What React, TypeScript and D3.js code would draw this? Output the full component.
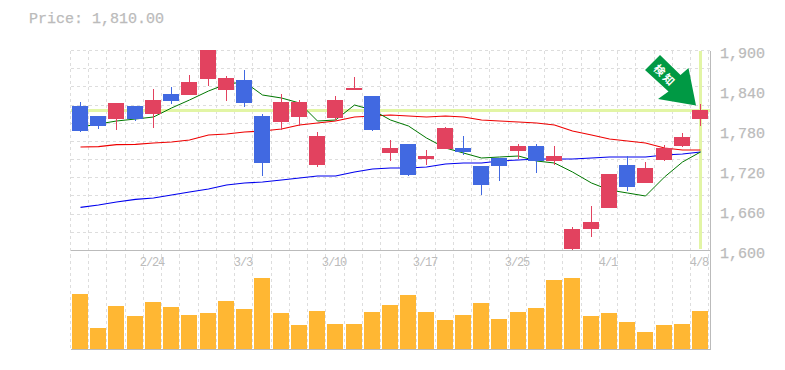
import React from "react";
import * as d3 from "d3";

const bodyHigh = [1816,1801,1820.5,1816,1825,1834,1852,1903,1858,1855,1801,1822,1822,1771,1825,1843,1831,1753,1759,1741,1783,1753,1726,1738,1756,1756,1741,1631.5,1642,1714,1727.5,1723,1753,1769.5,1810];
const bodyLow = [1778.5,1786,1796.5,1796.5,1804,1823.5,1832.5,1856.5,1840,1820.5,1730.5,1792,1799.5,1727.5,1798,1840,1780,1745.5,1712.5,1736.5,1751.5,1747,1697.5,1726,1748.5,1733.5,1733.5,1601.5,1631.5,1663,1694.5,1700.5,1735,1756,1796.5];
const highs = [1822,1801,1820.5,1816,1841.5,1844.5,1862.5,1903,1861,1870,1804,1834,1825,1777,1831,1859.5,1831,1765,1759,1750,1784.5,1771,1726,1738,1759,1759,1756,1634.5,1666,1714,1741,1732,1757.5,1775.5,1819];
const lows = [1777,1781.5,1780,1793.5,1783,1819,1832.5,1846,1823.5,1814.5,1711,1780,1786,1724.5,1793.5,1840,1778.5,1733.5,1711,1727.5,1751.5,1742.5,1682.5,1703.5,1736.5,1715.5,1727.5,1598.5,1619.5,1663,1688.5,1700.5,1733.5,1754.5,1786];
const isUp = [0,0,1,0,1,0,1,1,1,0,0,1,1,1,1,1,0,1,0,1,1,0,0,0,1,0,1,1,1,1,0,1,1,1,1];
const volumes = [55,21,43,33,47,42,34,36,48,40,71,36,24,38,25,25,37,44,54,37,29,34,46,30,37,41,69,71,33,36,27,17,24,25,38];
const ma5 = [1784.5,1789,1793.5,1796.5,1799.5,1813,1825,1838.5,1849,1852,1832.5,1828,1820.5,1793.5,1795,1817.5,1810,1795,1786,1768,1753,1745.5,1738,1739.5,1741,1733.5,1730.5,1717,1700.5,1690,1685.5,1681,1709.5,1732,1747];
const ma25 = [1754.5,1755,1758,1758.5,1760.5,1762,1765,1772.5,1774,1777,1778.5,1781.5,1787.5,1790.5,1793.5,1799.5,1801,1802.5,1801,1799.5,1801,1799.5,1795,1793.5,1792,1790.5,1787.5,1778.5,1772.5,1766.5,1763.5,1760.5,1753,1750,1750];
const ma75 = [1664,1667.5,1672,1676,1678,1682.5,1687,1691.5,1697.5,1700.5,1702,1705,1708,1711,1711,1717,1721.5,1723,1723,1724.5,1729,1730.5,1730.5,1733.5,1735,1736.5,1736.5,1736.5,1738,1739.5,1739.5,1739.5,1742.5,1744,1747];
const priceTicks = [1600,1660,1720,1780,1840,1900];
const dateTicks: [number, string][] = [[4,"2/24"],[9,"3/3"],[14,"3/10"],[19,"3/17"],[24,"3/25"],[29,"4/1"],[34,"4/8"]];
const currentPrice = 1810;
const priceLabel = "Price: 1,810.00";
const badge = "検知";

const W = 785, H = 370;
const L = 70.5, R = 710.5, TOP = 50.5, MID = 250.5, BOT = 349.5;
const STEP = 18.235;
const GRID = "#dddddd", AXIS = "#bbbbbb", TEXT = "#bbbbbb", HL = "#e2f5a5";
const UPC = "#e2425f", DOWNC = "#4169e1";
const mono = "'Liberation Mono', monospace";

export default function App() {
  const xl = (i: number) => Math.round(80 + STEP * i);
  const x = (i: number) => xl(i) + 0.5;
  const y = d3.scaleLinear().domain([1600, 1900]).range([250, 50]);
  const v = d3.scaleLinear().domain([0, 100]).range([348.5, 248.5]);
  const line = d3.line<number>().x((_, i) => x(i)).y((d) => y(d));
  const hGrid = d3.range(0, 12).map((k) => Math.round(50 + (k * 200) / 11) + 0.5);
  const vGrid = d3.range(0, 36).map((k) => Math.floor(L + k * STEP) + 0.5);
  const lastX = x(34);
  const lastY = y(currentPrice);
  const arrow: [number, number][] = [[-40.5,-55],[-20,-35],[-12,-42],[-4.5,-4.5],[-42.5,-11],[-32,-18.5],[-55.5,-40]];
  return (
    <svg width={W} height={H} style={{ position: "absolute", left: 0, top: 0 }}>
      <defs>
        <clipPath id="pc"><rect x={70} y={50} width={640} height={202} /></clipPath>
      </defs>
      <rect width={W} height={H} fill="#fff" />
      <text x={29} y={22.5} fontFamily={mono} fontSize={15} fill={TEXT} stroke={TEXT} strokeWidth={0.25}>{priceLabel}</text>
      <g stroke={GRID} strokeWidth={1} strokeDasharray="3 3" shapeRendering="crispEdges">
        {hGrid.map((g) => <line key={g} x1={L} x2={R} y1={g} y2={g} />)}
        {vGrid.map((g) => <line key={g} x1={g} x2={g} y1={TOP} y2={BOT} />)}
      </g>
      <line x1={L} x2={R} y1={lastY + 0.5} y2={lastY + 0.5} stroke={HL} strokeWidth={3} shapeRendering="crispEdges" />
      <line x1={lastX} x2={lastX} y1={TOP} y2={MID - 1.5} stroke={HL} strokeWidth={3} shapeRendering="crispEdges" />
      <g fill="none">
        <path d={line(ma75) ?? ""} stroke="#0000ee" strokeWidth={1.1} />
        <path d={line(ma25) ?? ""} stroke="#ee0000" strokeWidth={1.1} />
        <path d={line(ma5) ?? ""} stroke="#007700" strokeWidth={1} />
      </g>
      <g clipPath="url(#pc)" shapeRendering="crispEdges">
        {bodyHigh.map((o, i) => {
          const col = isUp[i] ? UPC : DOWNC;
          const t = y(o);
          const b = y(bodyLow[i]);
          return (
            <g key={i}>
              <line x1={x(i)} x2={x(i)} y1={y(highs[i])} y2={y(lows[i])} stroke={col} strokeWidth={1} />
              <rect x={xl(i) - 8} y={t} width={16} height={Math.max(b - t, 1)} fill={col} />
            </g>
          );
        })}
      </g>
      <g fill="#ffb733" shapeRendering="crispEdges">
        {volumes.map((d, i) => <rect key={i} x={xl(i) - 8} y={v(d)} width={16} height={v(0) - v(d)} />)}
      </g>
      <g stroke={AXIS} strokeWidth={1} shapeRendering="crispEdges">
        <line x1={L} x2={R} y1={MID} y2={MID} />
        <line x1={L} x2={R} y1={BOT} y2={BOT} />
        <line x1={R} x2={R} y1={TOP} y2={BOT} />
      </g>
      <polygon points={arrow.map(([a, b]) => `${lastX + a},${lastY + b}`).join(" ")} fill="#009944" />
      <text transform={`translate(${lastX - 35},${lastY - 35}) rotate(45)`} textAnchor="middle" dominantBaseline="central" fontFamily="'Noto Sans CJK JP'" fontWeight={700} fontSize={11} letterSpacing={2} fill="#fff">{badge}</text>
      {priceTicks.map((p) => (
        <text key={p} x={720} y={y(p) + 7.5} fontFamily={mono} fontSize={15} fill={TEXT} stroke={TEXT} strokeWidth={0.25}>{d3.format(",")(p)}</text>
      ))}
      {dateTicks.map(([i, t]) => (
        <text key={t} x={x(i) - 1.5} y={266} textAnchor="middle" fontFamily={mono} fontSize={12} letterSpacing={-1.1} fill={TEXT}>{t}</text>
      ))}
    </svg>
  );
}
